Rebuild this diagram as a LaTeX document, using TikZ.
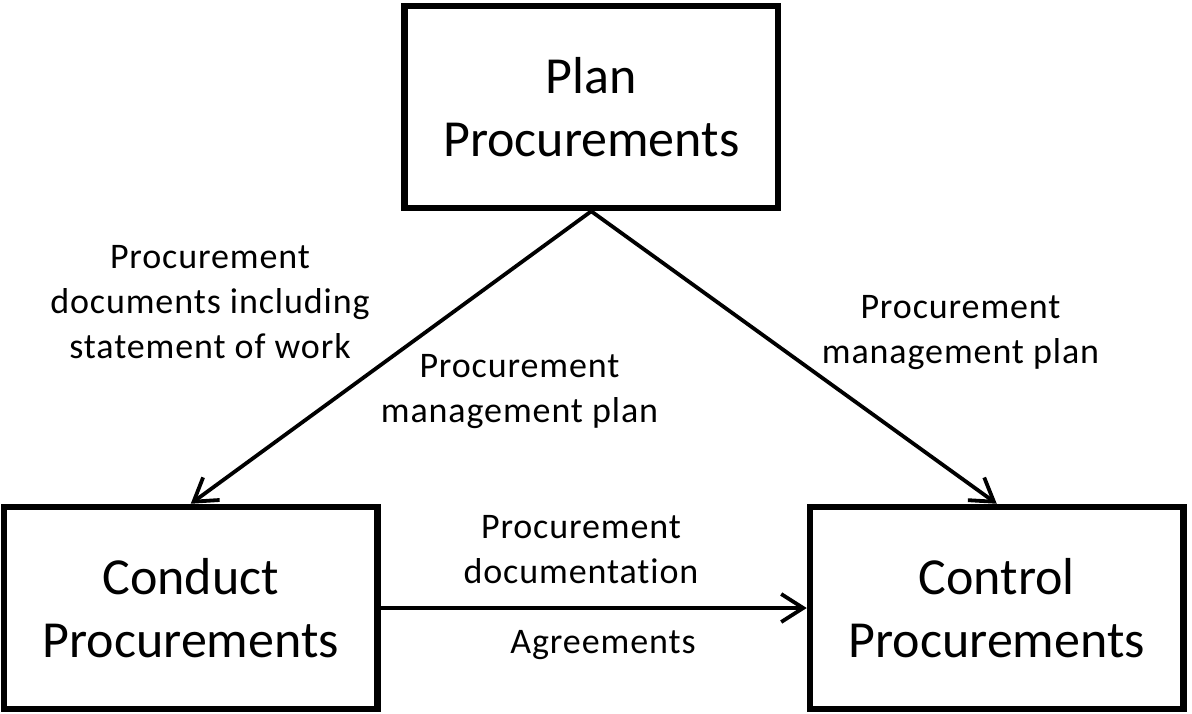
\documentclass[tikz,border=0pt]{standalone}
\usepackage{fontspec}
\setmainfont{Carlito}[Ligatures=NoCommon]
\newfontfamily\lblfont[LetterSpace=2.5,Ligatures=NoCommon]{Carlito}
\usetikzlibrary{arrows.meta}
\begin{document}
\begin{tikzpicture}[x=1pt,y=-1pt,
  procbox/.style={draw=black, line width=6.5pt, minimum width=373.5pt, minimum height=202pt, inner sep=0pt, align=center, font=\fontsize{52}{63}\selectfont},
  lbl/.style={align=center, inner sep=0pt, font=\lblfont\fontsize{36}{45}\selectfont},
  flow/.style={line width=3.8pt, -{Straight Barb[length=22pt,width=28pt]}}
]
\useasboundingbox (0,0) rectangle (1192,713);
\node[procbox] (plan) at (591.25,107) {Plan\\Procurements};
\node[procbox] (conduct) at (190.75,608) {Conduct\\Procurements};
\node[procbox] (control) at (996.75,608) {Control\\Procurements};
\draw[flow] (plan.south) -- (conduct.north);
\draw[flow] (plan.south) -- (control.north);
\draw[flow] (conduct.east) -- (control.west);
\node[lbl] (docs) at (210,302) {Procurement\\documents including\\statement of work};
\node[lbl] (mplanA) at (519.5,392) {Procurement\\management plan};
\node[lbl] (mplanB) at (960.5,332.5) {Procurement\\management plan};
\node[lbl] (pdoc) at (581,550) {Procurement\\documentation};
\node[lbl, anchor=base] (agr) at (603,653) {Agreements};
\end{tikzpicture}
\end{document}
